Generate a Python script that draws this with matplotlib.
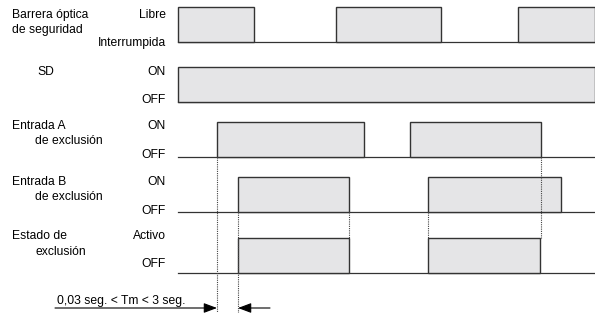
import matplotlib.pyplot as plt
from matplotlib.patches import Rectangle

plt.rcParams['font.family'] = ['Liberation Sans', 'DejaVu Sans']

# señales: intervalos en estado alto (eje de tiempo arbitrario)
t_start, t_end = 178, 595
barrera = [(178, 254), (336, 441), (518, 595)]
sd = [(178, 595)]
entrada_a = [(217, 364), (410, 541)]
entrada_b = [(238, 349), (428, 561)]
estado = [(238, 349), (428, 540)]

signals = [barrera, sd, entrada_a, entrada_b, estado]
high_labels = ["Libre", "ON", "ON", "ON", "Activo"]
low_labels = ["Interrumpida", "OFF", "OFF", "OFF", "OFF"]
baselines = [42, 102, 157, 212, 273]
height = 35

# nombres de las señales: (texto, x, y)
name_texts = [("Barrera óptica", 12, 15), ("de seguridad", 12, 30),
              ("SD", 37, 72),
              ("Entrada A", 12, 126), ("de exclusión", 35, 141),
              ("Entrada B", 12, 182), ("de exclusión", 35, 197),
              ("Estado de", 12, 236), ("exclusión", 35, 252)]
high_y = [15, 72, 126, 182, 236]
low_y = [43, 100, 155, 211, 264]

# líneas punteadas (tiempo, y inicio, y fin)
guides = [(217, 157, 313), (238, 212, 313), (349, 212, 239),
          (428, 212, 239), (541, 157, 239)]
tm_label = "0,03 seg. < Tm < 3 seg."

fig = plt.figure(figsize=(5.95, 3.13), dpi=100)
ax = fig.add_axes([0, 0, 1, 1])
ax.set_xlim(0, 595)
ax.set_ylim(313, 0)
ax.axis('off')

fill = '#e5e5e7'
edge = '#333333'
fs = 8.7

for sig, base in zip(signals, baselines):
    ax.plot([t_start, t_end], [base, base], color=edge, lw=0.9, zorder=1)
    for a, b in sig:
        ax.add_patch(Rectangle((a, base - height), b - a, height, facecolor=fill,
                               edgecolor=edge, lw=1.0, zorder=2))

for txt, x, y in name_texts:
    ax.text(x, y, txt, fontsize=fs, va='center', ha='left')
for hl, ll, yh, yl in zip(high_labels, low_labels, high_y, low_y):
    ax.text(166, yh, hl, fontsize=fs, va='center', ha='right')
    ax.text(166, yl, ll, fontsize=fs, va='center', ha='right')

for x, y0, y1 in guides:
    ax.plot([x, x], [y0, y1], color='#444444', lw=0.8, ls=(0, (1, 1)), zorder=3)

ax.annotate("", xy=(217, 308), xytext=(55, 308),
            arrowprops=dict(arrowstyle='-|>,head_length=0.8,head_width=0.3',
                            color='black', lw=0.8, shrinkA=0, shrinkB=0))
ax.annotate("", xy=(238, 308), xytext=(270, 308),
            arrowprops=dict(arrowstyle='-|>,head_length=0.8,head_width=0.3',
                            color='black', lw=0.8, shrinkA=0, shrinkB=0))
ax.text(57, 301, tm_label, fontsize=fs, va='center', ha='left')

plt.savefig("out.png", dpi=100)
